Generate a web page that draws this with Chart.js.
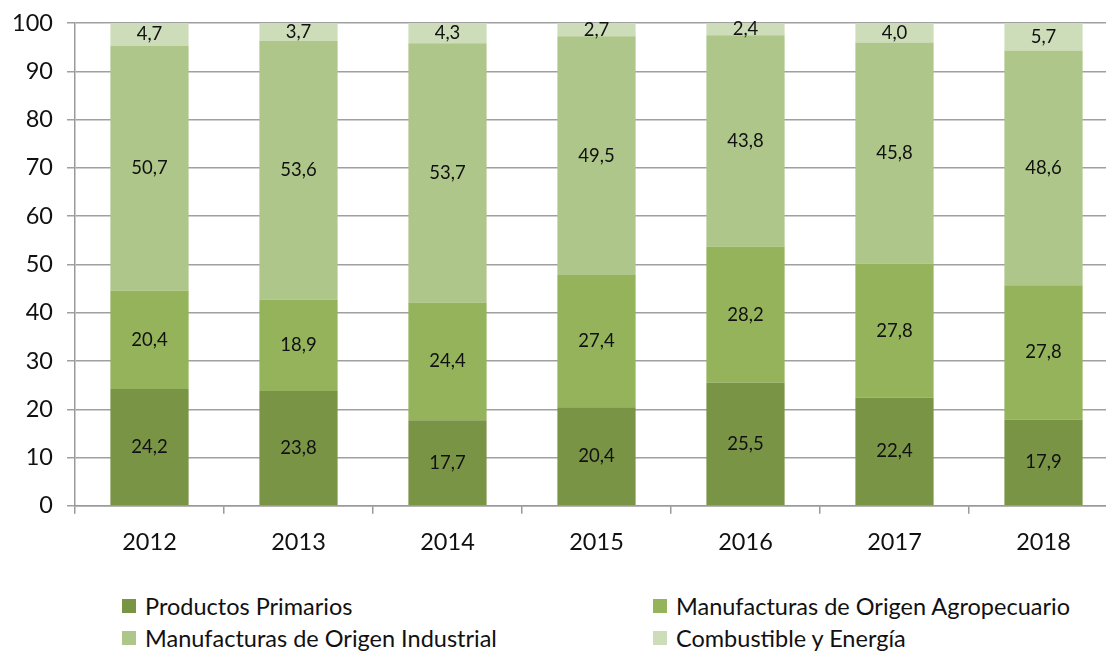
<!DOCTYPE html>
<html>
<head>
<meta charset="utf-8">
<script src="https://cdn.jsdelivr.net/npm/chart.js@4"></script>
<style>
  html, body { margin: 0; padding: 0; background: #fff; overflow: hidden; width: 1106px; height: 653px; }
  #wrap { position: absolute; left: 0; top: -5px; width: 1118px; height: 577px; }
  #legend { position: absolute; left: 0; top: 591px; width: 1106px; font-family: Lato, 'Liberation Sans', sans-serif; font-size: 23.5px; color: #111; }
  .item { position: absolute; display: flex; align-items: center; white-space: nowrap; line-height: 30px; }
  .box { width: 14px; height: 14px; margin-right: 9px; }
</style>
</head>
<body>
<div id="wrap"><canvas id="chart"></canvas></div>
<div id="legend"></div>
<script>
const years = ['2012', '2013', '2014', '2015', '2016', '2017', '2018'];
const primarios = [24.2, 23.8, 17.7, 20.4, 25.5, 22.4, 17.9];
const moa = [20.4, 18.9, 24.4, 27.4, 28.2, 27.8, 27.8];
const moi = [50.7, 53.6, 53.7, 49.5, 43.8, 45.8, 48.6];
const combustible = [4.7, 3.7, 4.3, 2.7, 2.4, 4.0, 5.7];
const yTicks = [0, 10, 20, 30, 40, 50, 60, 70, 80, 90, 100];

const seriesNames = ['Productos Primarios', 'Manufacturas de Origen Agropecuario', 'Manufacturas de Origen Industrial', 'Combustible y Energía'];
const seriesData = [primarios, moa, moi, combustible];
const seriesColors = ['#7a9446', '#94b35a', '#aec689', '#cdddb9'];

const fontFamily = "Lato, 'Liberation Sans', sans-serif";

// labels inside each segment, with comma decimals
const segmentLabels = {
    id: 'segmentLabels',
    afterDatasetsDraw(chart) {
        const ctx = chart.ctx;
        ctx.save();
        ctx.font = '18.5px ' + fontFamily;
        ctx.fillStyle = '#111';
        ctx.textAlign = 'center';
        ctx.textBaseline = 'middle';
        chart.data.datasets.forEach((ds, i) => {
            chart.getDatasetMeta(i).data.forEach((bar, j) => {
                const y = (bar.y + bar.base) / 2;
                ctx.fillText(ds.data[j].toFixed(1).replace('.', ','), bar.x, y);
            });
        });
        ctx.restore();
    }
};

const ctx = document.getElementById('chart').getContext('2d');
const chart = new Chart(ctx, {
    type: 'bar',
    data: {
        labels: years,
        datasets: seriesNames.map((name, i) => ({
            label: name,
            data: seriesData[i],
            backgroundColor: seriesColors[i],
            borderWidth: 0,
            categoryPercentage: 1,
            barPercentage: 0.525
        }))
    },
    options: {
        responsive: true,
        maintainAspectRatio: false,
        animation: false,
        layout: { padding: { top: 3, left: 0, right: 0, bottom: 0 } },
        plugins: {
            legend: { display: false },
            tooltip: { enabled: false }
        },
        scales: {
            x: {
                stacked: true,
                offset: true,
                grid: { offset: true, drawOnChartArea: false, color: '#9a9a9a', lineWidth: 1.5, tickLength: 8 },
                border: { color: '#9a9a9a', width: 1.5 },
                ticks: { color: '#111', font: { family: fontFamily, size: 23.5 }, padding: 15 }
            },
            y: {
                stacked: true,
                min: 0,
                max: 100,
                afterFit(scale) { scale.width = 75; },
                afterBuildTicks(scale) { scale.ticks = yTicks.map(v => ({ value: v })); },
                grid: { color: '#a0a0a0', lineWidth: 1.5, tickLength: 8 },
                border: { color: '#9a9a9a', width: 1.5 },
                ticks: { color: '#111', font: { family: fontFamily, size: 23.5 }, padding: 14 }
            }
        }
    },
    plugins: [segmentLabels]
});

// two-column legend under the chart
const legendPos = [[122, 0], [653, 0], [122, 32], [653, 32]];
const legendEl = document.getElementById('legend');
chart.data.datasets.forEach((ds, i) => {
    const item = document.createElement('div');
    item.className = 'item';
    item.style.left = legendPos[i][0] + 'px';
    item.style.top = legendPos[i][1] + 'px';
    const box = document.createElement('span');
    box.className = 'box';
    box.style.background = ds.backgroundColor;
    item.appendChild(box);
    item.appendChild(document.createTextNode(ds.label));
    legendEl.appendChild(item);
});
</script>
</body>
</html>
